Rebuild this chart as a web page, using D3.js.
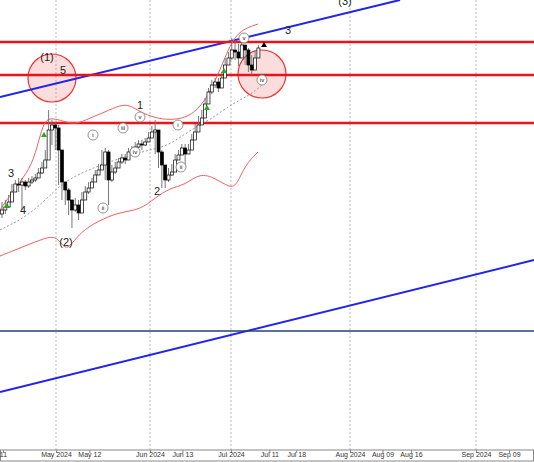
<!DOCTYPE html>
<html><head><meta charset="utf-8">
<script src="https://cdn.jsdelivr.net/npm/d3@7"></script>
<style>body{margin:0;background:#fff}text{font-family:"Liberation Sans",Arial,sans-serif}</style>
</head><body><div id="chart"></div>
<script>
// closes per bar (price units, bar index = array index)
const closes = [240,243,248,258,266,265,268,264,268,270,272,277,282,290,320,325,322,300,268,260,250,240,245,237,250,258,262,268,275,280,285,298,270,278,282,288,292,290,298,300,303,306,305,308,312,318,320,298,285,270,275,278,290,295,302,296,300,310,318,325,332,346,358,365,368,362,372,385,392,400,398,392,405,400,385,380,392,402];
const highs = [248,250,255,266,270,272,272,270,272,274,276,282,288,300,340,330,328,325,300,268,262,250,252,250,258,264,268,272,280,286,300,302,300,285,288,292,296,296,302,304,308,310,310,312,318,324,330,320,300,285,282,286,296,300,306,306,306,316,326,334,340,352,362,370,372,372,378,392,398,412,410,406,410,405,402,395,400,405];
const lows  = [232,236,242,250,258,258,240,260,262,266,268,272,276,285,300,305,300,265,250,245,235,222,238,230,240,250,256,262,270,275,280,270,245,268,276,282,286,286,292,296,300,302,300,304,308,312,296,282,262,262,268,274,286,290,296,282,296,304,312,318,326,338,352,356,362,358,366,378,386,390,390,384,396,385,378,375,386,395];
const startX = 2, barStep = 3.33;

const upperBand = [[0,240],[10,255],[20,268],[32,285],[39,310],[44,328],[50,332],[60,330],[75,325],[90,332],[105,338],[120,345],[130,345],[140,338],[155,332],[170,330],[185,332],[198,340],[210,358],[220,380],[230,405],[240,420],[258,426]];
const lowerBand = [[0,194],[20,202],[40,210],[55,215],[62,205],[68,200],[80,218],[100,230],[120,238],[140,240],[155,252],[170,262],[185,265],[200,277],[215,272],[230,262],[237,265],[245,285],[258,298]];
const midBand = [[0,220],[30,235],[55,260],[70,272],[100,285],[130,295],[150,300],[170,305],[190,320],[210,330],[230,345],[250,355],[262,365]];

const hLevels = [408, 375, 327];
const baseLevel = 119;
const blueUpper = [[0,353],[400,450]];
const blueLower = [[0,58],[534,190]];

const tickDates = ["2024-04-11","2024-05-01","2024-05-12","2024-06-01","2024-06-13","2024-07-01","2024-07-11","2024-07-18","2024-08-01","2024-08-09","2024-08-16","2024-09-01","2024-09-09"];
const tickLabels = ["11","May 2024","May 12","Jun 2024","Jun 13","Jul 2024","Jul 11","Jul 18","Aug 2024","Aug 09","Aug 16","Sep 2024","Sep 09"];
const monthDates = ["2024-05-01","2024-06-01","2024-07-01","2024-08-01","2024-09-01"];

const waveLabels = [["3",11,277],["4",23,240],["(2)",66,208],["1",140,345],["2",157,259],["3",288,420],["(3)",345,449],["(1)",47,393],["5",63,380]];
const romanLabels = [["i",93,315],["ii",103,242],["iii",123,322],["iv",135,298],["v",140,333],["i",178,325],["ii",181,283],["v",244,412],["iv",262,370]];
const greenArrows = [[7,244],[44,315],[207,342],[224,379]];
const circles = [[52,372],[262,376]];

const W = 534, H = 462, plotBottom = 450;
const parse = d3.utcParse("%Y-%m-%d");
const x = d3.scaleUtc()
  .domain(["2024-04-11","2024-05-01","2024-06-01","2024-07-01","2024-08-01","2024-09-01","2024-09-09"].map(parse))
  .range([3,56,150,231,350,476,509]);
const px = d3.scaleLinear().domain([0, W]).range([0, W]);
const y = d3.scaleLinear().domain([0, 450]).range([plotBottom, 0]);

const svg = d3.select("#chart").append("svg").attr("width", W).attr("height", H);
const g = svg.append("g");
svg.append("defs").append("clipPath").attr("id","clip").append("rect").attr("width",W).attr("height",plotBottom);
g.attr("clip-path","url(#clip)");

// month grid
g.selectAll(".grid").data(monthDates).enter().append("line")
  .attr("x1", d => x(parse(d))).attr("x2", d => x(parse(d)))
  .attr("y1", 0).attr("y2", plotBottom)
  .attr("stroke", "#aaa").attr("stroke-dasharray", "2,2").attr("stroke-width", 0.8);

// circles behind
g.selectAll(".zone").data(circles).enter().append("circle")
  .attr("cx", d => px(d[0])).attr("cy", d => y(d[1])).attr("r", 24)
  .attr("fill", "rgba(240,120,120,0.25)").attr("stroke", "#e33").attr("stroke-width", 1.2);

const line = d3.line().x(d => px(d[0])).y(d => y(d[1]));
g.append("path").datum(blueUpper).attr("d", line).attr("stroke", "#2222ee").attr("stroke-width", 2).attr("fill", "none");
g.append("path").datum(blueLower).attr("d", line).attr("stroke", "#2222ee").attr("stroke-width", 2).attr("fill", "none");
g.append("line").attr("x1",0).attr("x2",W).attr("y1",y(baseLevel)).attr("y2",y(baseLevel)).attr("stroke","#23407a").attr("stroke-width",1.3);
g.selectAll(".lvl").data(hLevels).enter().append("line")
  .attr("x1",0).attr("x2",W).attr("y1",d=>y(d)).attr("y2",d=>y(d)).attr("stroke","#e8141a").attr("stroke-width",2.5);

const curve = d3.line().x(d => px(d[0])).y(d => y(d[1])).curve(d3.curveBasis);
g.append("path").datum(upperBand).attr("d", curve).attr("stroke", "#f06060").attr("fill","none");
g.append("path").datum(lowerBand).attr("d", curve).attr("stroke", "#f06060").attr("fill","none");
g.append("path").datum(midBand).attr("d", curve).attr("stroke", "#999").attr("stroke-dasharray","2,2").attr("fill","none");

// candles
const bars = closes.map((c, i) => ({x: startX + i * barStep, o: i ? closes[i-1] : c - 4, c, h: highs[i], l: lows[i]}));
const cg = g.selectAll(".bar").data(bars).enter().append("g");
cg.append("line").attr("x1",d=>px(d.x)).attr("x2",d=>px(d.x)).attr("y1",d=>y(d.h)).attr("y2",d=>y(d.l)).attr("stroke","#777");
cg.append("rect").attr("x",d=>px(d.x)-1.5).attr("width",3)
  .attr("y",d=>y(Math.max(d.o,d.c))).attr("height",d=>Math.max(1,Math.abs(y(d.o)-y(d.c))))
  .attr("fill",d=>d.c>=d.o?"#fff":"#000").attr("stroke","#000").attr("stroke-width",0.7);

g.selectAll(".arr").data(greenArrows).enter().append("path")
  .attr("d", d => `M${px(d[0])},${y(d[1])-3}l3,5h-6z`).attr("fill","#2a2");
g.append("path").attr("d", `M${px(264)},${y(408)}l3,5h-6z`).attr("fill","#000");

const rl = g.selectAll(".rom").data(romanLabels).enter().append("g");
rl.append("circle").attr("cx",d=>px(d[1])).attr("cy",d=>y(d[2])).attr("r",5).attr("fill","#fff").attr("stroke","#777").attr("stroke-width",0.8);
rl.append("text").attr("x",d=>px(d[1])).attr("y",d=>y(d[2])+2).attr("text-anchor","middle").attr("font-size",6).attr("font-family","Liberation Serif").text(d=>d[0]);

g.selectAll(".wl").data(waveLabels).enter().append("text")
  .attr("x",d=>px(d[1])).attr("y",d=>y(d[2])+4).attr("text-anchor","middle").attr("font-size",11).attr("fill","#222").text(d=>d[0]);

// axis
svg.append("rect").attr("x",0.5).attr("y",plotBottom).attr("width",W-1).attr("height",H-plotBottom-1).attr("fill","#fff").attr("stroke","#888");
const axis = d3.axisBottom(x).tickValues(tickDates.map(parse)).tickSize(3)
  .tickFormat((d,i) => tickLabels[i]);
const ax = svg.append("g").attr("transform",`translate(0,${plotBottom})`).call(axis);
ax.select(".domain").remove();
ax.selectAll("line").attr("stroke","#888");
ax.selectAll("text").attr("font-size",7).attr("dy","0.2em").attr("fill","#333");
</script></body></html>
